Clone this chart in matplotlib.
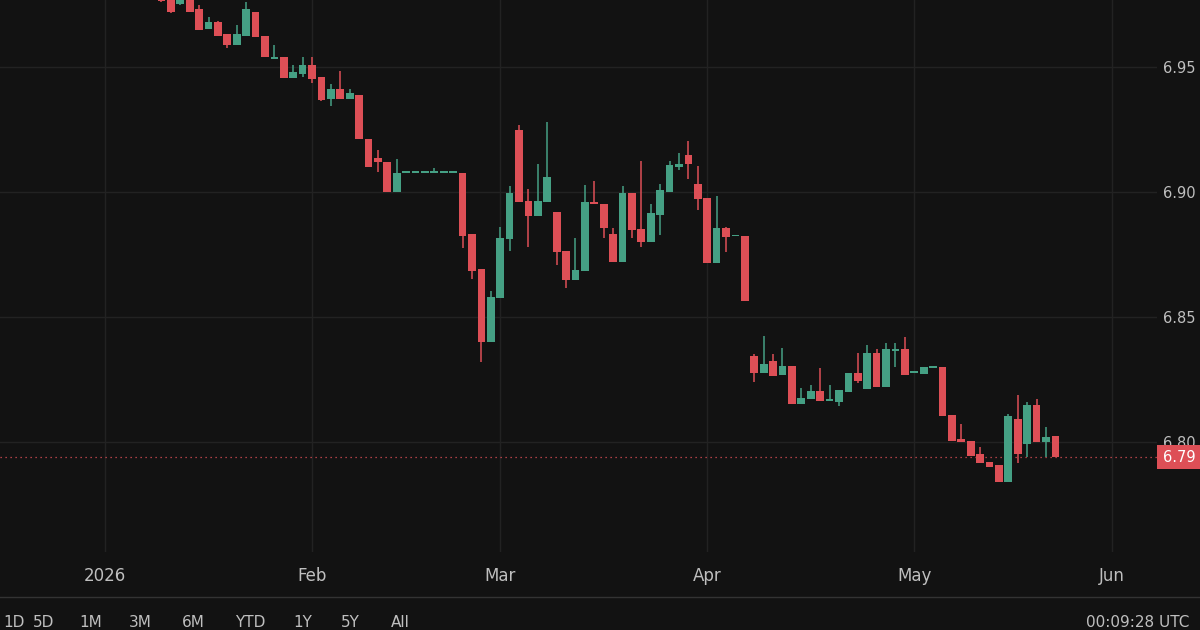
import numpy as np
import pandas as pd
import matplotlib
matplotlib.use("Agg")
import matplotlib.pyplot as plt
import matplotlib.transforms as mtransforms
from matplotlib.patches import Rectangle
from matplotlib.lines import Line2D

# daily bars (weekdays) from Jan 1 2026, first candle on screen is Jan 9
dates = pd.bdate_range("2026-01-01", "2026-06-05")
first_bar = 6

opens = [6.9830, 6.9810, 6.9752, 6.9790, 6.9732, 6.9652, 6.9680, 6.9632, 6.9588, 6.9624,
         6.9720, 6.9624, 6.9532, 6.9540, 6.9456, 6.9472, 6.9508, 6.9460, 6.9372, 6.9412,
         6.9372, 6.9388, 6.9212, 6.9136, 6.9120, 6.9000, 6.9076, 6.9076, 6.9076, 6.9076,
         6.9076, 6.9076, 6.9076, 6.8832, 6.8692, 6.8400, 6.8576, 6.8812, 6.9248, 6.8964,
         6.8904, 6.8960, 6.8920, 6.8764, 6.8648, 6.8684, 6.8960, 6.8952, 6.8832, 6.8720,
         6.8996, 6.8852, 6.8800, 6.8908, 6.9000, 6.9100, 6.9148, 6.9032, 6.8976, 6.8716,
         6.8856, 6.8824, 6.8824, 6.8344, 6.8276, 6.8324, 6.8268, 6.8304, 6.8152, 6.8172,
         6.8204, 6.8164, 6.8160, 6.8200, 6.8276, 6.8212, 6.8356, 6.8220, 6.8364, 6.8372,
         6.8276, 6.8272, 6.8296, 6.8300, 6.8108, 6.8012, 6.8004, 6.7952, 6.7920, 6.7908,
         6.7840, 6.8092, 6.7992, 6.8148, 6.8000, 6.8024]
highs = [6.9860, 6.9830, 6.9810, 6.9810, 6.9748, 6.9700, 6.9684, 6.9632, 6.9668, 6.9760,
         6.9720, 6.9624, 6.9588, 6.9540, 6.9508, 6.9540, 6.9540, 6.9460, 6.9432, 6.9484,
         6.9412, 6.9388, 6.9212, 6.9168, 6.9120, 6.9132, 6.9076, 6.9076, 6.9076, 6.9096,
         6.9076, 6.9076, 6.9076, 6.8832, 6.8692, 6.8604, 6.8860, 6.9024, 6.9268, 6.9012,
         6.9112, 6.9280, 6.8920, 6.8764, 6.8816, 6.9028, 6.9044, 6.8952, 6.8856, 6.9024,
         6.8996, 6.9124, 6.8952, 6.9032, 6.9124, 6.9156, 6.9204, 6.9104, 6.8976, 6.8984,
         6.8860, 6.8824, 6.8824, 6.8352, 6.8424, 6.8352, 6.8376, 6.8304, 6.8216, 6.8228,
         6.8296, 6.8228, 6.8208, 6.8276, 6.8356, 6.8388, 6.8372, 6.8396, 6.8396, 6.8420,
         6.8276, 6.8300, 6.8300, 6.8300, 6.8108, 6.8072, 6.8004, 6.7980, 6.7920, 6.7908,
         6.8112, 6.8188, 6.8160, 6.8172, 6.8060, 6.8024]
lows = [6.9762, 6.9716, 6.9748, 6.9720, 6.9648, 6.9652, 6.9624, 6.9576, 6.9588, 6.9624,
        6.9620, 6.9540, 6.9532, 6.9456, 6.9456, 6.9460, 6.9436, 6.9364, 6.9344, 6.9372,
        6.9372, 6.9212, 6.9100, 6.9080, 6.9000, 6.9000, 6.9076, 6.9076, 6.9076, 6.9076,
        6.9076, 6.9076, 6.8776, 6.8652, 6.8320, 6.8400, 6.8576, 6.8764, 6.8960, 6.8780,
        6.8904, 6.8960, 6.8708, 6.8616, 6.8648, 6.8684, 6.8952, 6.8816, 6.8720, 6.8720,
        6.8816, 6.8780, 6.8800, 6.8828, 6.9000, 6.9088, 6.9052, 6.8928, 6.8716, 6.8716,
        6.8760, 6.8824, 6.8564, 6.8240, 6.8276, 6.8264, 6.8268, 6.8152, 6.8152, 6.8172,
        6.8164, 6.8164, 6.8144, 6.8200, 6.8236, 6.8212, 6.8220, 6.8220, 6.8300, 6.8268,
        6.8276, 6.8272, 6.8296, 6.8104, 6.8004, 6.8000, 6.7944, 6.7916, 6.7900, 6.7840,
        6.7840, 6.7916, 6.7940, 6.8000, 6.7940, 6.7940]
closes = [6.9764, 6.9720, 6.9790, 6.9720, 6.9648, 6.9680, 6.9624, 6.9588, 6.9632, 6.9732,
          6.9620, 6.9540, 6.9540, 6.9456, 6.9480, 6.9508, 6.9452, 6.9368, 6.9412, 6.9372,
          6.9396, 6.9212, 6.9100, 6.9120, 6.9000, 6.9076, 6.9076, 6.9076, 6.9076, 6.9076,
          6.9076, 6.9076, 6.8824, 6.8684, 6.8400, 6.8580, 6.8816, 6.8996, 6.8960, 6.8904,
          6.8964, 6.9060, 6.8760, 6.8648, 6.8688, 6.8960, 6.8952, 6.8856, 6.8720, 6.8996,
          6.8848, 6.8800, 6.8916, 6.9008, 6.9108, 6.9112, 6.9112, 6.8972, 6.8716, 6.8856,
          6.8820, 6.8824, 6.8564, 6.8276, 6.8312, 6.8264, 6.8304, 6.8152, 6.8176, 6.8204,
          6.8164, 6.8172, 6.8208, 6.8276, 6.8244, 6.8356, 6.8220, 6.8372, 6.8372, 6.8268,
          6.8276, 6.8300, 6.8300, 6.8104, 6.8004, 6.8000, 6.7944, 6.7916, 6.7900, 6.7840,
          6.8104, 6.7952, 6.8148, 6.8000, 6.8020, 6.7940]

price_ticks = [6.80, 6.85, 6.90, 6.95]
range_buttons = ["1D", "5D", "1M", "3M", "6M", "YTD", "1Y", "5Y", "All"]
clock_text = "00:09:28 UTC"

# colours
bg = "#121212"
grid_col = "#222222"
text_col = "#bfbfbf"
up_col = "#45a084"
down_col = "#dd4f56"

plt.rcParams["font.family"] = ["DejaVu Sans"]

o = np.array(opens)
h = np.array(highs)
l = np.array(lows)
c = np.array(closes)
x = np.arange(first_bar, first_bar + len(o))
cols = np.where(c >= o, up_col, down_col)

fig = plt.figure(figsize=(12, 6.3), dpi=100, facecolor=bg)
ax = fig.add_axes([0, 78 / 630, 1157 / 1200, 552 / 630])
ax.set_facecolor(bg)

# month boundaries -> vertical grid + labels
month_idx = [0] + [i for i in range(1, len(dates)) if dates[i].month != dates[i - 1].month]
month_lbl = ["2026" if dates[i].month == 1 else dates[i].strftime("%b") for i in month_idx]

for m in month_idx:
    ax.axvline(m, color=grid_col, lw=1, zorder=0)
for p in price_ticks:
    ax.axhline(p, color=grid_col, lw=1, zorder=0)

# candles
ax.vlines(x, l, h, colors=cols, lw=1.1, zorder=2)
body = np.maximum(np.abs(c - o), 0.0006)
ax.bar(x, body, bottom=np.minimum(o, c), width=0.82, color=cols, zorder=3)

# last price line
last = c[-1]
ax.axhline(last, color=down_col, lw=0.9, ls=(0, (1, 3)), zorder=1)

ax.set_xlim(-11.16, 111.8)
ax.set_ylim(6.7560, 6.9768)

ax.set_xticks(month_idx)
ax.set_xticklabels(month_lbl)
ax.yaxis.tick_right()
ax.set_yticks(price_ticks)
ax.set_yticklabels(["{:.2f}".format(p) for p in price_ticks])
ax.tick_params(axis="x", length=0, pad=11, labelsize=12, labelcolor=text_col)
ax.tick_params(axis="y", length=0, pad=4.5, labelsize=10.5, labelcolor=text_col)
for s in ax.spines.values():
    s.set_visible(False)

# red box with the last price on the price scale
trans = mtransforms.blended_transform_factory(ax.transAxes, ax.transData)
ax.add_patch(Rectangle((1.0, last - 0.0048), 0.06, 0.0096, transform=trans,
                       facecolor=down_col, edgecolor="none", clip_on=False, zorder=5))
ax.text(1.0 + 6 / 1157, last, "{:.2f}".format(last), transform=trans, color="white",
        fontsize=10.5, va="center", ha="left", clip_on=False, zorder=6)

# bottom toolbar
fig.add_artist(Line2D([0, 1], [1 - 597 / 630, 1 - 597 / 630], color="#333333", lw=1))
button_x = [3, 44, 91, 140, 193, 250, 303, 350, 400]
for i, b in enumerate(range_buttons):
    fig.text(button_x[i] / 1200, 1 - 615 / 630, b, color=text_col, fontsize=11,
             ha="left" if i == 0 else "center", va="top")
fig.text(1086 / 1200, 1 - 615 / 630, clock_text, color=text_col, fontsize=11,
         ha="left", va="top")

fig.savefig("out.png", dpi=100, facecolor=bg)
